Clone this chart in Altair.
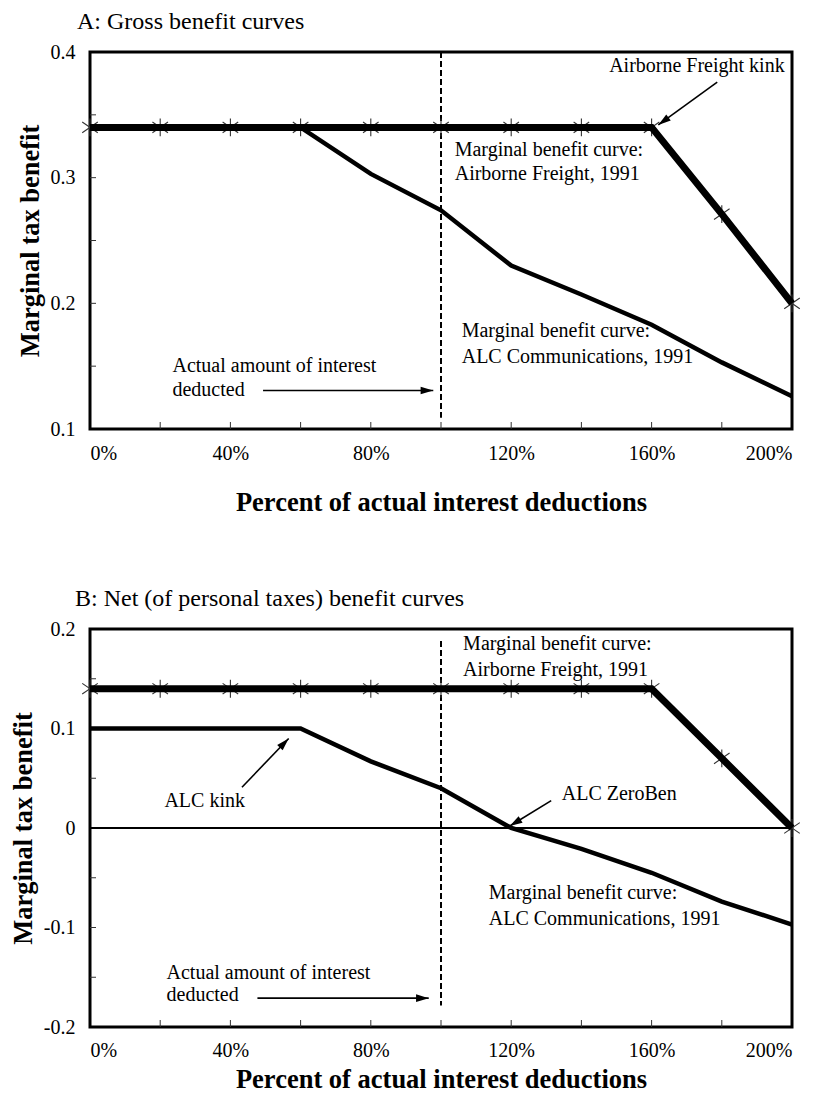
import math
import pandas as pd
import altair as alt

FONT = "Liberation Serif"
W = 702
HA = 377
HB = 398

# ---------------- data ----------------
x_pct = [0, 20, 40, 60, 80, 100, 120, 140, 160, 180, 200]

# Panel A: gross benefit curves
a_air = [0.34, 0.34, 0.34, 0.34, 0.34, 0.34, 0.34, 0.34, 0.34, 0.271, 0.20]
a_alc = [0.34, 0.34, 0.34, 0.34, 0.303, 0.274, 0.230, 0.207, 0.183, 0.153, 0.126]

# Panel B: net benefit curves
b_air = [0.14, 0.14, 0.14, 0.14, 0.14, 0.14, 0.14, 0.14, 0.14, 0.07, 0.0]
b_alc = [0.10, 0.10, 0.10, 0.10, 0.067, 0.040, 0.0, -0.021, -0.045, -0.074, -0.097]

x_label_vals = [0, 40, 80, 120, 160, 200]
x_minor = [20, 40, 60, 80, 100, 120, 140, 160, 180]

a_ydom = [0.1, 0.4]
a_y_labels = [0.1, 0.2, 0.3, 0.4]
a_y_minor = [0.15, 0.2, 0.25, 0.3, 0.35]

b_ydom = [-0.2, 0.2]
b_y_labels = [-0.2, -0.1, 0, 0.1, 0.2]
b_y_minor = [-0.15, -0.1, -0.05, 0.05, 0.1, 0.15]

# annotations (label, x, y)
a_texts = [
    ("Airborne Freight kink", 147.9, 0.389),
    ("Marginal benefit curve:", 103.9, 0.322),
    ("Airborne Freight, 1991", 103.9, 0.303),
    ("Marginal benefit curve:", 105.9, 0.178),
    ("ALC Communications, 1991", 105.9, 0.157),
    ("Actual amount of interest", 23.5, 0.150),
    ("deducted", 23.5, 0.131),
]
a_arrows = [  # x1, y1, x2, y2 (tip at x2, y2)
    (178.7, 0.376, 161.9, 0.342),
    (49.3, 0.1306, 97.8, 0.1306),
]
a_vline = (100, 0.4, 0.109)

b_texts = [
    ("Marginal benefit curve:", 106.3, 0.1846),
    ("Airborne Freight, 1991", 106.3, 0.159),
    ("ALC kink", 21.2, 0.0275),
    ("ALC ZeroBen", 134.4, 0.034),
    ("Marginal benefit curve:", 113.6, -0.065),
    ("ALC Communications, 1991", 113.6, -0.091),
    ("Actual amount of interest", 21.8, -0.146),
    ("deducted", 21.8, -0.168),
]
b_arrows = [
    (43.3, 0.041, 56.6, 0.090),
    (131.4, 0.0275, 119.6, 0.002),
    (47.7, -0.171, 96.5, -0.171),
]
b_vline = (100, 0.188, -0.1785)

ASTER = "M0,-1L0,1M-0.87,-0.6L0.87,0.6M-0.87,0.6L0.87,-0.6"
ARROW = "M0,0L-0.6,2L0.6,2Z"


def panel(air, alc, ydom, ylabels, yminor, H, texts, arrows, vline, zero,
          title, tdx, xlabpad, xtitlepad):
    X = alt.X(
        "x:Q",
        scale=alt.Scale(domain=[0, 200], nice=False, zero=False),
        axis=alt.Axis(
            values=x_label_vals,
            labelExpr="datum.value + '%'",
            title="Percent of actual interest deductions",
            ticks=False, domain=False, grid=False,
            labelPadding=xlabpad, titlePadding=xtitlepad,
        ),
    )
    Y = alt.Y(
        "y:Q",
        scale=alt.Scale(domain=ydom, nice=False, zero=False),
        axis=alt.Axis(
            values=ylabels,
            labelExpr="datum.value == 0 ? '0' : toString(datum.value)",
            title="Marginal tax benefit",
            ticks=False, domain=False, grid=False,
            labelPadding=15, titlePadding=6,
        ),
    )
    df_air = pd.DataFrame({"x": x_pct, "y": air})
    df_alc = pd.DataFrame({"x": x_pct, "y": alc})

    layers = []
    # minor ticks inside the frame
    layers.append(
        alt.Chart(pd.DataFrame({"x": x_minor})).mark_rule(color="#333", strokeWidth=1)
        .encode(x=X, y=alt.value(H), y2=alt.value(H - 7))
    )
    layers.append(
        alt.Chart(pd.DataFrame({"y": yminor})).mark_rule(color="#333", strokeWidth=1)
        .encode(y=Y, x=alt.value(0), x2=alt.value(6))
    )
    # dashed vertical line
    layers.append(
        alt.Chart(pd.DataFrame({"x": [vline[0]], "y": [vline[1]], "y2": [vline[2]]}))
        .mark_rule(color="black", strokeWidth=2, strokeDash=[6, 3])
        .encode(x=X, y=Y, y2="y2:Q")
    )
    if zero:
        layers.append(
            alt.Chart(pd.DataFrame({"y": [0]})).mark_rule(color="black", strokeWidth=2)
            .encode(y=Y)
        )
    # star markers on the Airborne curve
    layers.append(
        alt.Chart(df_air).mark_point(shape=ASTER, filled=False, stroke="#333",
                                     strokeWidth=1.1, size=320, opacity=1)
        .encode(x=X, y=Y)
    )
    layers.append(
        alt.Chart(df_alc).mark_line(color="black", strokeWidth=4.5).encode(x=X, y=Y)
    )
    layers.append(
        alt.Chart(df_air).mark_line(color="black", strokeWidth=7).encode(x=X, y=Y)
    )
    # arrows
    sx = W / 200.0
    sy = H / (ydom[1] - ydom[0])
    rows = []
    for (x1, y1, x2, y2) in arrows:
        dx = (x2 - x1) * sx
        dy = -(y2 - y1) * sy
        ang = math.degrees(math.atan2(dx, -dy)) % 360
        rows.append({"x": x1, "y": y1, "x2": x2, "y2": y2, "ang": ang})
    dfa = pd.DataFrame(rows)
    layers.append(
        alt.Chart(dfa).mark_rule(color="black", strokeWidth=1.6)
        .encode(x=X, y=Y, x2="x2:Q", y2="y2:Q")
    )
    dfh = pd.DataFrame({"x": dfa["x2"], "y": dfa["y2"], "ang": dfa["ang"]})
    layers.append(
        alt.Chart(dfh).mark_point(shape=ARROW, filled=True, color="black",
                                  size=160, opacity=1)
        .encode(x=X, y=Y, angle=alt.Angle("ang:Q", scale=None))
    )
    # text labels
    dft = pd.DataFrame(texts, columns=["t", "x", "y"])
    layers.append(
        alt.Chart(dft).mark_text(align="left", baseline="middle", font=FONT,
                                 fontSize=20, color="black")
        .encode(x=X, y=Y, text="t:N")
    )
    return alt.layer(*layers).properties(
        width=W, height=H,
        title=alt.TitleParams(text=title, dx=tdx, offset=8, frame="group"),
    )


pa = panel(a_air, a_alc, a_ydom, a_y_labels, a_y_minor, HA, a_texts, a_arrows,
           a_vline, False, "A: Gross benefit curves", -13, 14, 26)
pb = panel(b_air, b_alc, b_ydom, b_y_labels, b_y_minor, HB, b_texts, b_arrows,
           b_vline, True, "B: Net (of personal taxes) benefit curves", -15, 13, 6)

chart = (
    alt.vconcat(pa, pb, spacing=68)
    .properties(padding={"left": 0, "right": 0, "top": 0, "bottom": 0})
    .configure_view(stroke="black", strokeWidth=3)
    .configure_axis(labelFont=FONT, labelFontSize=20, labelColor="black",
                    titleFont=FONT, titleFontSize=26.5, titleFontWeight="bold",
                    titleColor="black")
    .configure_title(font=FONT, fontSize=24, fontWeight="normal", color="black",
                     anchor="start")
)

chart.save("out.html", embed_options={"renderer": "svg", "actions": False})
